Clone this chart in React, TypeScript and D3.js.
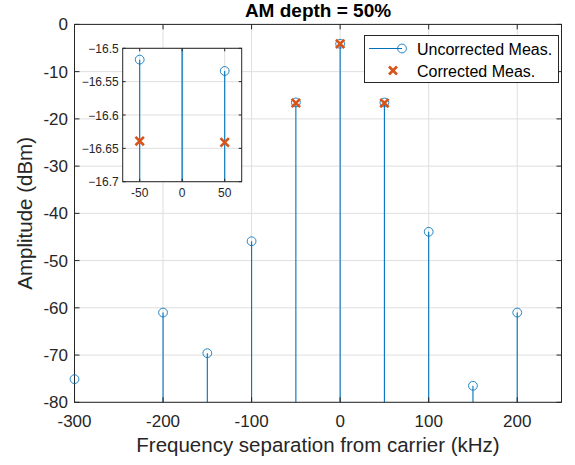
import React from "react";
import * as d3 from "d3";

// Spectrum of an AM signal: sideband levels relative to carrier (kHz offsets)
const freqs = [-300, -200, -150, -100, -50, 0, 50, 100, 150, 200];
const uncorrected = [-75.1, -61.0, -69.6, -45.9, -16.517, -4.1, -16.534, -43.9, -76.5, -61.0];
const corrFreqs = [-50, 0, 50];
const corrected = [-16.639, -4.1, -16.641];

const xTicks = [-300, -200, -100, 0, 100, 200];
const yTicks = [0, -10, -20, -30, -40, -50, -60, -70, -80];
const insetXTicks = [-50, 0, 50];
const insetYTicks = [-16.5, -16.55, -16.6, -16.65, -16.7];

const BLUE = "#0072BD";
const ORANGE = "#D95319";
const AXIS = "#262626";
const GRID = "#dfdfdf";
const FONT = "'Liberation Sans', Arial, Helvetica, sans-serif";

function Cross({ cx, cy, s = 4.2 }: { cx: number; cy: number; s?: number }) {
  return (
    <path
      d={`M${cx - s},${cy - s}L${cx + s},${cy + s}M${cx - s},${cy + s}L${cx + s},${cy - s}`}
      stroke={ORANGE}
      strokeWidth={2.6}
      fill="none"
    />
  );
}

export default function App() {
  const W = 575;
  const H = 465;
  const x = d3.scaleLinear().domain([-300, 250]).range([74.5, 561.5]);
  const y = d3.scaleLinear().domain([-80, 0]).range([402.3, 24.4]);

  const xi = d3.scaleLinear().domain([-70, 70]).range([122.7, 241.7]);
  const yi = d3.scaleLinear().domain([-16.7, -16.5]).range([181.7, 48.3]);

  const [x0, x1] = x.range();
  const [y0, y1] = y.range();
  const [ix0, ix1] = xi.range();
  const [iy0, iy1] = yi.range();
  const tick = 5;
  const itick = 3;

  const fmtInset = (v: number) => {
    const s = d3.format(".2f")(v);
    return s.replace(/0$/, "");
  };

  return (
    <svg
      width={W}
      height={H}
      style={{ position: "absolute", left: 0, top: 0, background: "#fff" }}
      fontFamily={FONT}
    >
      <defs>
        <clipPath id="mainClip">
          <rect x={x0} y={y1} width={x1 - x0} height={y0 - y1} />
        </clipPath>
        <clipPath id="insetClip">
          <rect x={ix0} y={iy1} width={ix1 - ix0} height={iy0 - iy1} />
        </clipPath>
      </defs>
      <rect width={W} height={H} fill="#fff" />

      {/* main grid */}
      <g stroke={GRID} strokeWidth={1}>
        {xTicks.map((t) => (
          <line key={"gx" + t} x1={x(t)} x2={x(t)} y1={y1} y2={y0} />
        ))}
        {yTicks.map((t) => (
          <line key={"gy" + t} x1={x0} x2={x1} y1={y(t)} y2={y(t)} />
        ))}
      </g>

      {/* stems */}
      <g clipPath="url(#mainClip)">
        {freqs.map((f, i) => (
          <line
            key={"s" + f}
            x1={x(f)}
            x2={x(f)}
            y1={y(uncorrected[i])}
            y2={y(-80)}
            stroke={BLUE}
            strokeWidth={1.1}
          />
        ))}
      </g>

      {/* main axes box and ticks */}
      <g stroke={AXIS} strokeWidth={1} fill="none">
        <rect x={x0} y={y1} width={x1 - x0} height={y0 - y1} />
        {xTicks.map((t) => (
          <g key={"tx" + t}>
            <line x1={x(t)} x2={x(t)} y1={y0} y2={y0 - tick} />
            <line x1={x(t)} x2={x(t)} y1={y1} y2={y1 + tick} />
          </g>
        ))}
        {yTicks.map((t) => (
          <g key={"ty" + t}>
            <line x1={x0} x2={x0 + tick} y1={y(t)} y2={y(t)} />
            <line x1={x1} x2={x1 - tick} y1={y(t)} y2={y(t)} />
          </g>
        ))}
      </g>

      {/* markers (not clipped, drawn over the box) */}
      <g>
        {freqs.map((f, i) => (
          <circle
            key={"c" + f}
            cx={x(f)}
            cy={y(uncorrected[i])}
            r={4.4}
            fill="none"
            stroke={BLUE}
            strokeWidth={1}
            strokeOpacity={0.85}
          />
        ))}
        {corrFreqs.map((f, i) => (
          <Cross key={"x" + f} cx={x(f)} cy={y(corrected[i])} />
        ))}
      </g>

      <g fill={AXIS} fontSize={17}>
        {xTicks.map((t) => (
          <text key={"lx" + t} x={x(t)} y={y0 + 24.5} textAnchor="middle">
            {t}
          </text>
        ))}
        {yTicks.map((t) => (
          <text key={"ly" + t} x={x0 - 6.5} y={y(t) + 6} textAnchor="end">
            {t}
          </text>
        ))}
      </g>

      {/* titles */}
      <text x={(x0 + x1) / 2} y={17} textAnchor="middle" fontWeight="bold" fontSize={19} fill="#000">
        AM depth = 50%
      </text>
      <text x={(x0 + x1) / 2} y={452} textAnchor="middle" fontSize={20.5} fill={AXIS}>
        Frequency separation from carrier (kHz)
      </text>
      <text
        transform={`translate(32,${(y0 + y1) / 2}) rotate(-90)`}
        textAnchor="middle"
        fontSize={20.5}
        fill={AXIS}
      >
        Amplitude (dBm)
      </text>

      {/* inset zoom on first sidebands */}
      <rect x={ix0} y={iy1} width={ix1 - ix0} height={iy0 - iy1} fill="#fff" />
      <g stroke={GRID} strokeWidth={1}>
        {insetXTicks.map((t) => (
          <line key={"igx" + t} x1={xi(t)} x2={xi(t)} y1={iy1} y2={iy0} />
        ))}
        {insetYTicks.map((t) => (
          <line key={"igy" + t} x1={ix0} x2={ix1} y1={yi(t)} y2={yi(t)} />
        ))}
      </g>
      <g clipPath="url(#insetClip)">
        {freqs.map((f, i) => (
          <line
            key={"is" + f}
            x1={xi(f)}
            x2={xi(f)}
            y1={yi(uncorrected[i])}
            y2={yi(-16.7)}
            stroke={BLUE}
            strokeWidth={f === 0 ? 1.8 : 1.1}
            strokeOpacity={f === 0 ? 0.75 : 1}
          />
        ))}
        {freqs.map((f, i) => (
          <circle
            key={"ic" + f}
            cx={xi(f)}
            cy={yi(uncorrected[i])}
            r={4.4}
            fill="none"
            stroke={BLUE}
            strokeWidth={1}
            strokeOpacity={0.85}
          />
        ))}
        {corrFreqs.map((f, i) => (
          <Cross key={"ix" + f} cx={xi(f)} cy={yi(corrected[i])} />
        ))}
      </g>
      <g stroke={AXIS} strokeWidth={1} fill="none">
        <rect x={ix0} y={iy1} width={ix1 - ix0} height={iy0 - iy1} />
        {insetXTicks.map((t) => (
          <g key={"itx" + t}>
            <line x1={xi(t)} x2={xi(t)} y1={iy0} y2={iy0 - itick} />
            <line x1={xi(t)} x2={xi(t)} y1={iy1} y2={iy1 + itick} />
          </g>
        ))}
        {insetYTicks.map((t) => (
          <g key={"ity" + t}>
            <line x1={ix0} x2={ix0 + itick} y1={yi(t)} y2={yi(t)} />
            <line x1={ix1} x2={ix1 - itick} y1={yi(t)} y2={yi(t)} />
          </g>
        ))}
      </g>
      <g fill={AXIS} fontSize={12}>
        {insetXTicks.map((t) => (
          <text key={"ilx" + t} x={xi(t)} y={iy0 + 15} textAnchor="middle">
            {t}
          </text>
        ))}
        {insetYTicks.map((t) => (
          <text key={"ily" + t} x={ix0 - 4} y={yi(t) + 4.5} textAnchor="end">
            {fmtInset(t)}
          </text>
        ))}
      </g>

      {/* legend */}
      <g>
        <rect x={364.5} y={35.5} width={194} height={47} fill="#fff" stroke={AXIS} strokeWidth={1} />
        <line x1={369} x2={402} y1={48.5} y2={48.5} stroke={BLUE} strokeWidth={1.1} />
        <circle cx={402} cy={48.5} r={4.4} fill="none" stroke={BLUE} strokeWidth={1} strokeOpacity={0.85} />
        <Cross cx={393} cy={70.5} s={4} />
        <text x={417} y={54.5} fontSize={16} fill="#000">
          Uncorrected Meas.
        </text>
        <text x={417} y={76.5} fontSize={16} fill="#000">
          Corrected Meas.
        </text>
      </g>
    </svg>
  );
}
